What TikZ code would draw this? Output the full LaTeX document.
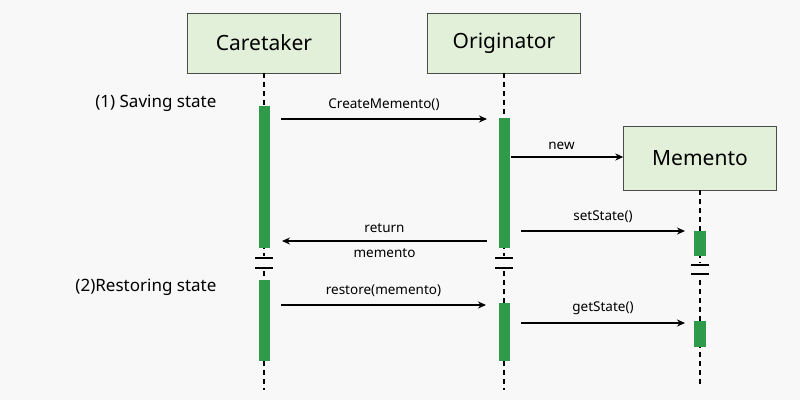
\documentclass[tikz,border=0pt]{standalone}
\usepackage{fontspec}
\setmainfont{Noto Sans}
\usetikzlibrary{arrows.meta}
\definecolor{bg}{HTML}{F8F8F8}
\definecolor{boxfill}{HTML}{E2F0D9}
\definecolor{bar}{HTML}{2E9A4A}
\begin{document}
\begin{tikzpicture}[x=1pt,y=-1pt,
 obj/.style={draw=black!70,fill=boxfill,minimum width=153pt,minimum height=60pt,font=\fontsize{21}{24}\selectfont\bfseries,inner sep=0},
 life/.style={dashed,line width=1.3pt,dash pattern=on 5pt off 4pt},
 act/.style={fill=bar,draw=none},
 msg/.style={-{Stealth[length=8pt,width=7pt]},line width=1.2pt},
 lbl/.style={font=\fontsize{13.5}{16}\selectfont},
 side/.style={font=\fontsize{17}{20}\selectfont\bfseries},
 brk/.style={line width=1.3pt}]
\fill[bg] (0,0) rectangle (800,400);
\useasboundingbox (0,0) rectangle (800,400);
\node[obj] (C) at (264,43) {Caretaker};
\node[obj] (O) at (504,43) {Originator};
\node[obj,minimum height=64pt] (M) at (700,158) {Memento};
\coordinate (Ce) at (264,390);
\coordinate (Oe) at (504,390);
\coordinate (Me) at (700,384);
\draw[life] (C.south) -- (Ce);
\draw[life] (O.south) -- (Oe);
\draw[life] (M.south) -- (Me);
% breaks
\foreach \x/\a/\b in {264/258/268,504/258/268,700/265/274}{
 \fill[bg] (\x-10,\a-2) rectangle (\x+10,\b+2);
 \draw[brk] (\x-9,\a) -- (\x+9,\a);
 \draw[brk] (\x-9,\b) -- (\x+9,\b);}
% activations
\fill[act] (258.5,106) rectangle (270,248);
\fill[act] (258.5,280) rectangle (270,361);
\fill[act] (498.5,118) rectangle (510,248);
\fill[act] (498.5,303) rectangle (510,361);
\fill[act] (694,231) rectangle (705.5,256);
\fill[act] (694,321) rectangle (705.5,347);
\coordinate (a1) at (281,119); \coordinate (b1) at (487,119);
\draw[msg] (a1) -- node[lbl,above=4pt]{CreateMemento()} (b1);
\coordinate (a2) at (511,157);
\draw[msg] (a2) -- node[lbl,above=3pt,pos=0.45]{new} (M.west|-a2);
\coordinate (a3) at (521,231); \coordinate (b3) at (685,231);
\draw[msg] (a3) -- node[lbl,above=4pt]{setState()} (b3);
\coordinate (a4) at (487,241); \coordinate (b4) at (282,241);
\draw[msg] (a4) -- node[lbl,above=4pt]{return} node[lbl,below=4pt]{memento} (b4);
\coordinate (a5) at (281,305); \coordinate (b5) at (486,305);
\draw[msg] (a5) -- node[lbl,above=4pt]{restore(memento)} (b5);
\coordinate (a6) at (521,323); \coordinate (b6) at (685,323);
\draw[msg] (a6) -- node[lbl,above=4pt]{getState()} (b6);
\node[side,anchor=east] (s1) at (220,103) {(1) Saving state};
\node[side,anchor=east] (s2) at (220,287) {(2)Restoring state};
\end{tikzpicture}
\end{document}
